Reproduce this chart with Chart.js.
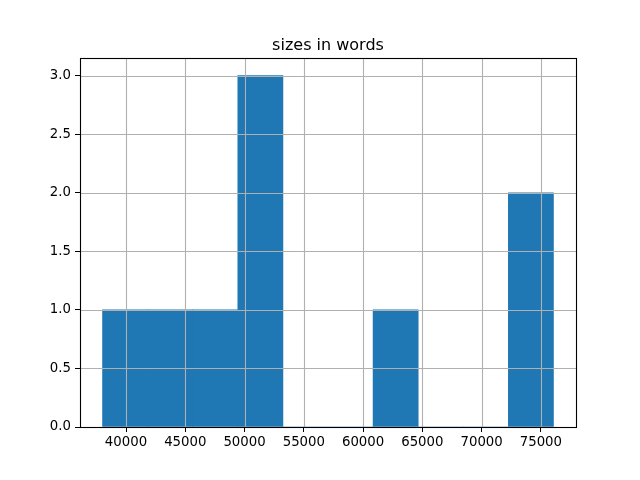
<!DOCTYPE html>
<html>
<head>
<meta charset="utf-8">
<script src="https://cdn.jsdelivr.net/npm/chart.js@4/dist/chart.umd.min.js"></script>
<style>
  html, body { margin: 0; padding: 0; background: #ffffff; }
  #wrap { width: 640px; height: 480px; }
</style>
</head>
<body>
<div id="wrap"><canvas id="c" width="640" height="480"></canvas></div>
<script>
// Histogram data
const binEdges = [38020, 41824, 45628, 49432, 53236, 57040, 60844, 64648, 68452, 72256, 76060];
const counts   = [1, 1, 1, 3, 0, 0, 1, 0, 0, 2];
const xTicks   = [40000, 45000, 50000, 55000, 60000, 65000, 70000, 75000];
const yTicks   = [0.0, 0.5, 1.0, 1.5, 2.0, 2.5, 3.0];
const titleText = 'sizes in words';

const dataRange = binEdges[binEdges.length - 1] - binEdges[0];
const xMin = binEdges[0] - 0.05 * dataRange;
const xMax = binEdges[binEdges.length - 1] + 0.05 * dataRange;
const yMax = Math.max(...counts) * 1.05;

const points = counts.map((c, i) => ({ x: (binEdges[i] + binEdges[i + 1]) / 2, y: c }));

const FONT = 'DejaVu Sans';
const GRID = '#b0b0b0';

const overlay = {
  id: 'overlay',
  afterDatasetsDraw(chart) {
    const ctx = chart.ctx;
    const a = chart.chartArea;
    ctx.save();
    ctx.strokeStyle = GRID;
    ctx.lineWidth = 1.1;
    const xs = chart.scales.x, ys = chart.scales.y;
    xs.ticks.forEach(t => {
      const px = Math.round(xs.getPixelForValue(t.value)) + 0.5;
      ctx.beginPath(); ctx.moveTo(px, a.top); ctx.lineTo(px, a.bottom); ctx.stroke();
    });
    ys.ticks.forEach(t => {
      const py = Math.round(ys.getPixelForValue(t.value)) + 0.5;
      ctx.beginPath(); ctx.moveTo(a.left, py); ctx.lineTo(a.right, py); ctx.stroke();
    });
    ctx.strokeStyle = '#000000';
    ctx.lineWidth = 1.1;
    ctx.strokeRect(Math.round(a.left) + 0.5, Math.round(a.top) + 0.5,
                   Math.round(a.right - a.left), Math.round(a.bottom - a.top));
    // title, centred over the plot area like matplotlib
    ctx.fillStyle = '#000000';
    ctx.font = '16px "' + FONT + '"';
    ctx.textAlign = 'center';
    ctx.textBaseline = 'alphabetic';
    ctx.fillText(titleText, (a.left + a.right) / 2, a.top - 8);
    ctx.restore();
  }
};

new Chart(document.getElementById('c'), {
  type: 'bar',
  data: {
    datasets: [{
      data: points,
      backgroundColor: '#1f77b4',
      borderWidth: 0,
      barPercentage: 1.0,
      categoryPercentage: 1.0,
      grouped: false
    }]
  },
  options: {
    responsive: false,
    animation: false,
    devicePixelRatio: 1,
    layout: { padding: { left: 0, right: 64, top: 58, bottom: 0 } },
    plugins: {
      legend: { display: false },
      tooltip: { enabled: false },
      title: { display: false }
    },
    scales: {
      x: {
        type: 'linear',
        min: xMin,
        max: xMax,
        offset: false,
        afterFit(s) { s.height = 53; },
        afterBuildTicks(s) { s.ticks = xTicks.map(v => ({ value: v })); },
        ticks: {
          color: '#000000',
          font: { family: FONT, size: 13.3 },
          padding: 3,
          maxRotation: 0,
          autoSkip: false,
          includeBounds: false,
          callback: v => String(v)
        },
        grid: { display: true, offset: false, drawOnChartArea: false, drawTicks: true, tickLength: 5, tickColor: '#000000', tickWidth: 1 },
        border: { display: false }
      },
      y: {
        type: 'linear',
        min: 0,
        max: yMax,
        afterFit(s) { s.width = 80; },
        afterBuildTicks(s) { s.ticks = yTicks.map(v => ({ value: v })); },
        ticks: {
          color: '#000000',
          font: { family: FONT, size: 13.3 },
          padding: 4,
          autoSkip: false,
          includeBounds: false,
          callback: v => Number(v).toFixed(1)
        },
        grid: { display: true, offset: false, drawOnChartArea: false, drawTicks: true, tickLength: 5, tickColor: '#000000', tickWidth: 1 },
        border: { display: false }
      }
    }
  },
  plugins: [overlay]
});
</script>
</body>
</html>
